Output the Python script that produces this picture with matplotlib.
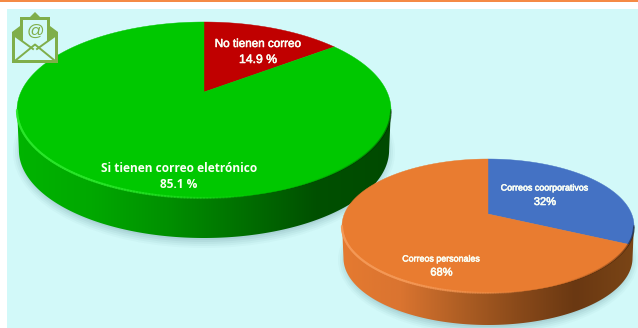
import numpy as np
import matplotlib
matplotlib.use("Agg")
import matplotlib.pyplot as plt
import matplotlib.patheffects as pe
from matplotlib.patches import Ellipse, Polygon, Rectangle
from matplotlib.colors import LinearSegmentedColormap

# Survey shares (percent)
email_labels = ["No tienen correo", "Si tienen correo eletrónico"]
email_shares = [14.9, 85.1]
email_text = ["14.9 %", "85.1 %"]
email_colors = ["#C00000", "#00C800"]

account_labels = ["Correos coorporativos", "Correos personales"]
account_shares = [32, 68]
account_text = ["32%", "68%"]
account_colors = ["#4472C4", "#E97C30"]

PANEL = "#D2F9F9"

fig = plt.figure(figsize=(6.38, 3.28), dpi=100, facecolor="white")
ax = fig.add_axes([0, 0, 1, 1])
ax.set_xlim(0, 638)
ax.set_ylim(328, 0)
ax.axis("off")

ax.add_patch(Rectangle((0, 0), 638, 1.6, fc="#F58A45", ec="none", zorder=1))
ax.add_patch(Rectangle((7, 9), 631, 319, fc=PANEL, ec="none", zorder=1))


def rim_point(theta, cx, cy, rx, ry, ax_x, ax_y):
    """Where the ray from the off-centre apex meets the tilted disc's rim."""
    dx, dy = rx * np.sin(theta), -ry * np.cos(theta)
    ox, oy = (ax_x - cx) / rx, (ax_y - cy) / ry
    ux, uy = dx / rx, dy / ry
    a = ux * ux + uy * uy
    b = 2 * (ox * ux + oy * uy)
    c = ox * ox + oy * oy - 1
    t = (-b + np.sqrt(b * b - 4 * a * c)) / (2 * a)
    return ax_x + t * dx, ax_y + t * dy


def draw_disc(shares, colors, cx, cy, rx, ry, apex_y, depth, wall_stops, glow, z):
    # soft drop shadow below the disc
    for grow, alpha in zip([9, 7, 5, 3, 1], [.035, .05, .06, .07, .08]):
        ax.add_patch(Ellipse((cx, cy + depth + 2), 2 * (rx + grow - 5), 2 * (ry + grow - 1),
                             fc="#3E6F78", ec="none", alpha=alpha, zorder=z))

    # wall: the front half of the rim swept down by the disc's thickness
    front = np.linspace(0, np.pi, 181)
    fx, fy = cx + rx * np.cos(front), cy + ry * np.sin(front)
    wall = np.column_stack([
        np.r_[fx, (cx + (fx - cx) * 0.99)[::-1]],
        np.r_[fy - 2, fy[::-1] + depth],
    ])
    cmap = LinearSegmentedColormap.from_list("wall", wall_stops)
    img = ax.imshow(np.linspace(0, 1, 256)[None, :], cmap=cmap, aspect="auto",
                    extent=(cx - rx, cx + rx, cy + ry + depth, cy), zorder=z + 1)
    clip = Polygon(wall, closed=True, transform=ax.transData, fc="none", ec="none")
    ax.add_patch(clip)
    img.set_clip_path(clip)
    ax.set_xlim(0, 638)
    ax.set_ylim(328, 0)

    # top face, one polygon per share, sharing the off-centre apex
    edges = np.cumsum([0] + list(shares)) / sum(shares) * 2 * np.pi
    for i, color in enumerate(colors):
        thetas = np.linspace(edges[i], edges[i + 1], 240)
        pts = [rim_point(a, cx, cy, rx, ry, cx, apex_y) for a in thetas]
        ax.add_patch(Polygon([(cx, apex_y)] + pts, closed=True, fc=color, ec=color,
                             lw=0.3, zorder=z + 2))

    # bevel along the front edge: a lighter tint on the left, shade on the right
    n = len(fx) - 1
    for k in range(n):
        frac = k / n
        if frac > 0.4:
            ax.plot(fx[k:k + 2], fy[k:k + 2], color=glow, alpha=min(1, (frac - 0.4) / 0.3) * 0.8,
                    lw=1.6, solid_capstyle="round", zorder=z + 3)
        elif frac < 0.35:
            ax.plot(fx[k:k + 2], fy[k:k + 2], color="black", alpha=0.22 * (1 - frac / 0.35),
                    lw=1.4, zorder=z + 3)


draw_disc(email_shares, email_colors, 204, 110, 187, 88, 92, 40,
          ["#00B400", "#00A800", "#009000", "#007000", "#005000", "#004A00"], "#2CE82C", 3)
draw_disc(account_shares, account_colors, 488, 226, 146, 67, 214, 32,
          ["#E57A30", "#DA7430", "#B05F24", "#8A4A1A", "#6A3812", "#7A4516"], "#F59A58", 10)


def label(x, y, head, value, size, value_size, gap, family, weight):
    for text, yy, fs in ((head, y, size), (value, y + gap, value_size)):
        t = ax.text(x, yy, text, ha="center", va="center", color="#FBFFF5", fontsize=fs,
                    family=family, weight=weight, zorder=20)
        if weight == "normal":
            t.set_path_effects([pe.withStroke(linewidth=0.4, foreground="#FBFFF5")])


label(179, 168, email_labels[1], email_text[1], 8.6, 8.6, 17, "Open Sans", "bold")
label(258, 44, email_labels[0], email_text[0], 8.4, 8.8, 16, "Liberation Sans", "normal")
label(545, 188, account_labels[0], account_text[0], 6.4, 8.0, 14, "Liberation Sans", "normal")
label(441.5, 259, account_labels[1], account_text[1], 6.4, 8.0, 13.5, "Liberation Sans", "normal")

# open-envelope emblem in the corner
ICON = "#7FAE4A"
ax.add_patch(Polygon([(12, 32), (20, 26), (20, 17), (30, 17), (35, 12), (40, 17), (50, 17),
                      (50, 26), (58, 32), (58, 63), (12, 63)], closed=True,
                     fc=ICON, ec="none", zorder=25))
ax.add_patch(Polygon([(15, 36), (23, 42), (23, 20), (47, 20), (47, 42), (55, 36), (55, 60),
                      (15, 60)], closed=True, fc=PANEL, ec="none", zorder=26))
ax.plot([15, 33], [36, 49], color=ICON, lw=1.4, zorder=27)
ax.plot([55, 37], [36, 49], color=ICON, lw=1.4, zorder=27)
ax.plot([16, 35, 54], [60, 44.5, 60], color=ICON, lw=1.4, zorder=27)
ax.text(35, 31.5, "@", ha="center", va="center", color=ICON, fontsize=12.5,
        family="Liberation Sans", zorder=27)

fig.savefig("out.png", dpi=100, facecolor="white")
